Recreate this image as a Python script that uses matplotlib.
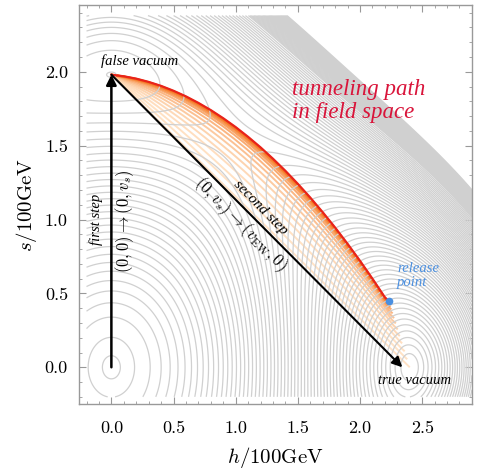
import numpy as np
import matplotlib
matplotlib.use("Agg")
import matplotlib.pyplot as plt
from matplotlib.ticker import MultipleLocator

plt.rcParams['font.family'] = 'serif'
plt.rcParams['font.serif'] = ['cmr10', 'DejaVu Serif']
plt.rcParams['mathtext.fontset'] = 'cm'
plt.rcParams['axes.formatter.use_mathtext'] = True

# ---- potential parameters (units of 100 GeV) ----
v_ew = 2.4        # true vacuum (h direction)
w_s = 1.98        # false vacuum (s direction)
lam_h = 1.0
lam_s = 1.25
lam_hs = 4.0
grid_h = (-0.2, 2.9)
grid_s = (-0.2, 2.38)
n_body = 62       # contour levels below the symmetric point
body_power = 1.35
v_top = -0.1
band_step = 0.085  # contour spacing above the symmetric point
v_cut = 2.75

# ---- tunneling path ----
path_h = [0.0, 0.1, 0.2, 0.3, 0.4, 0.5, 0.6, 0.7, 0.8, 0.9, 1.0, 1.1, 1.2, 1.3, 1.4,
          1.5, 1.6, 1.7, 1.8, 1.9, 2.0, 2.1, 2.2, 2.23]
path_s = [1.980, 1.969, 1.953, 1.931, 1.904, 1.871, 1.833, 1.789, 1.740, 1.685, 1.625,
          1.559, 1.488, 1.411, 1.329, 1.241, 1.148, 1.049, 0.945, 0.835, 0.720, 0.599,
          0.473, 0.45]
release = (2.23, 0.45)
false_vac = (0.0, 1.98)
true_end = (2.40, 0.0)
# deformation steps between straight path (0) and final path (1)
steps = [0.0, 0.12, 0.24, 0.36, 0.47, 0.57, 0.66, 0.74, 0.81, 0.87, 0.91, 0.94,
         0.96, 0.975, 0.985, 0.993]

fig = plt.figure(figsize=(4.85, 4.75), dpi=100)
ax = fig.add_axes([0.163, 0.149, 0.81, 0.84])

H, S = np.meshgrid(np.linspace(*grid_h, 600), np.linspace(*grid_s, 600))
mu_h2 = lam_h * v_ew**2
mu_s2 = lam_s * w_s**2
V = (-mu_h2 / 2 * H**2 + lam_h / 4 * H**4 - mu_s2 / 2 * S**2 + lam_s / 4 * S**4
     + lam_hs / 4 * H**2 * S**2)
v_min = V.min()
levels_body = v_min + (v_top - v_min) * np.linspace(0.015, 1, n_body) ** body_power
levels_band = np.arange(v_top + band_step, v_cut, band_step)
levels = np.concatenate([levels_body, levels_band])

# faint deformation paths
ph = np.array(path_h)
ps = np.array(path_s)
seg = np.hypot(np.diff(ph), np.diff(ps))
t = np.concatenate([[0], np.cumsum(seg)]) / seg.sum()
c0 = np.array([1.0, 0.86, 0.72])
c1 = np.array([0.96, 0.45, 0.10])
for f in steps:
    sh = false_vac[0] + (true_end[0] - false_vac[0]) * t
    ss = false_vac[1] + (true_end[1] - false_vac[1]) * t
    bh = f * ph + (1 - f) * sh
    bs = f * ps + (1 - f) * ss
    col = c0 + (c1 - c0) * f**3
    ax.plot(bh, bs, color=col, lw=1.4, alpha=0.8, zorder=1, solid_capstyle='butt')

ax.contour(H, S, V, levels=levels, colors='#d0d0d0', linewidths=0.9,
           linestyles='solid', zorder=2)

ax.plot(ph, ps, color='#e8231a', lw=1.6, zorder=4)
ax.plot(*release, 'o', color='#4a8fe0', ms=4.5, zorder=5)

# arrows
ax.annotate('', xy=(0.0, 1.98), xytext=(0.0, 0.0),
            arrowprops=dict(arrowstyle='-|>', color='black', lw=1.8,
                            mutation_scale=15, shrinkA=0, shrinkB=0), zorder=6)
ax.annotate('', xy=(2.34, 0.0), xytext=(0.0, 1.98),
            arrowprops=dict(arrowstyle='-|>', color='black', lw=1.5,
                            mutation_scale=15, shrinkA=0, shrinkB=0), zorder=6)

it = dict(family='Liberation Serif', style='italic')
ax.text(0.23, 2.075, 'false vacuum', fontsize=10.5, ha='center', va='center', **it)
ax.text(1.45, 1.80, 'tunneling path\nin field space', fontsize=16.5, color='#d9143a',
        ha='left', va='center', linespacing=1.1, **it)
ax.text(2.30, 0.62, 'release\npoint', fontsize=10.5, color='#4a8fe0', ha='left',
        va='center', linespacing=1.1, **it)
ax.text(2.44, -0.09, 'true vacuum', fontsize=10.5, ha='center', va='center', **it)
ax.text(-0.125, 1.0, 'first step', fontsize=10.5, rotation=90, ha='center', va='center', **it)
ax.text(0.11, 0.99, r'$(0,0)\rightarrow(0,v_s)$', fontsize=12, rotation=90,
        ha='center', va='center')
ax.text(1.2, 1.08, 'second step', fontsize=11, rotation=-45.4, ha='center',
        va='center', rotation_mode='anchor', **it)
ax.text(1.04, 0.97, r'$(0,v_s)\rightarrow(v_{\rm EW},0)$', fontsize=12, rotation=-45.4,
        ha='center', va='center', rotation_mode='anchor')

ax.set_xlim(-0.26, 2.9)
ax.set_ylim(-0.25, 2.45)
ax.xaxis.set_minor_locator(MultipleLocator(0.1))
ax.yaxis.set_minor_locator(MultipleLocator(0.1))
ax.tick_params(which='both', direction='in', top=True, right=True, color='#999999',
               labelsize=13)
ax.tick_params(which='major', length=5, width=0.8)
ax.tick_params(which='minor', length=2.5, width=0.6)
ax.set_xticks([0.0, 0.5, 1.0, 1.5, 2.0, 2.5])
ax.set_xticklabels(['0.0', '0.5', '1.0', '1.5', '2.0', '2.5'])
ax.set_yticks([0.0, 0.5, 1.0, 1.5, 2.0])
ax.set_yticklabels(['0.0', '0.5', '1.0', '1.5', '2.0'])
ax.tick_params(axis='x', pad=12)
ax.tick_params(axis='y', pad=8)
for sp in ax.spines.values():
    sp.set_color('#999999')
    sp.set_linewidth(1.0)
ax.set_xlabel(r'$h/100\mathrm{GeV}$', fontsize=15, labelpad=6)
ax.set_ylabel(r'$s/100\mathrm{GeV}$', fontsize=15, labelpad=4)

fig.savefig('out.png', dpi=100)
